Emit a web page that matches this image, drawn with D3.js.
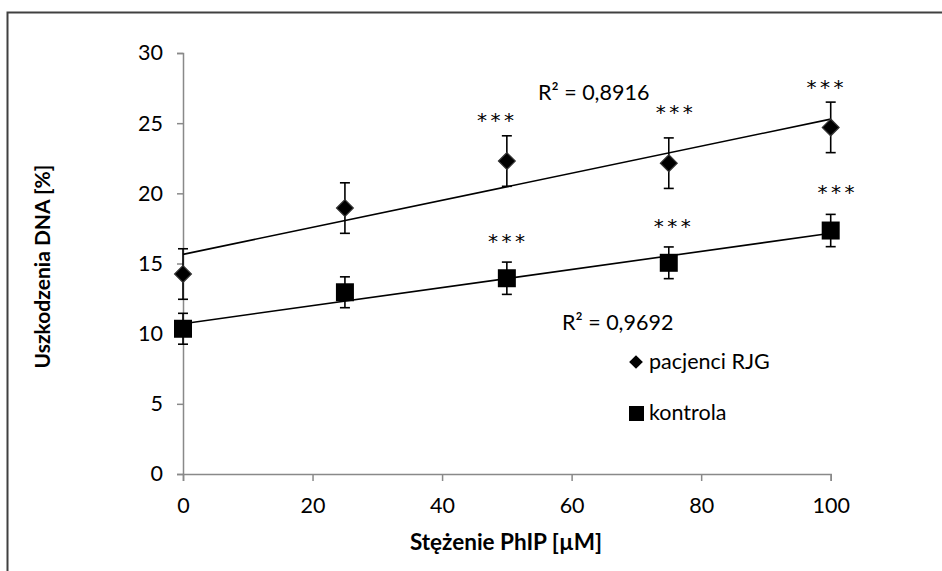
<!DOCTYPE html>
<html>
<head>
<meta charset="utf-8">
<script src="https://cdn.jsdelivr.net/npm/d3@7"></script>
<style>
  html, body { margin: 0; padding: 0; background: #fff; }
  svg { display: block; }
  text { font-family: Lato, "Open Sans", sans-serif; fill: #000; }
</style>
</head>
<body>
<svg id="chart" width="942" height="571"></svg>
<script>
// ---- Data ----
const doses = [0, 25, 50, 75, 100];
const patientsMean = [14.25, 18.95, 22.3, 22.15, 24.7];
const patientsErr = [1.8, 1.8, 1.8, 1.8, 1.8];
const controlMean = [10.35, 12.95, 13.95, 15.05, 17.35];
const controlErr = [1.1, 1.1, 1.15, 1.13, 1.15];
const yTicks = [0, 5, 10, 15, 20, 25, 30];
const xTicks = [0, 20, 40, 60, 80, 100];
const r2Patients = "R² = 0,8916";
const r2Control = "R² = 0,9692";
const seriesNames = ["pacjenci RJG", "kontrola"];
// significance labels: [x, y] in data units
const starsPatients = [[48.5, 25.45], [76.1, 26.0], [99.4, 27.8]];
const starsControl = [[50.2, 16.8], [75.8, 17.9], [101.1, 20.3]];

const FS = "21.5px";
const FONT = 'Lato, "Open Sans", sans-serif';

// ---- Layout ----
const svg = d3.select("#chart");
const x = d3.scaleLinear().domain([0, 100]).range([183, 830.7]);
const y = d3.scaleLinear().domain([0, 30]).range([474, 53]);

// outer frame (cropped chart area border)
svg.append("path")
  .attr("d", "M7.5,571 V12.5 H942")
  .attr("fill", "none").attr("stroke", "#404040").attr("stroke-width", 2);

const axisColor = "#898989";
const yAxis = svg.append("g").attr("transform", `translate(${x(0)},0)`)
  .call(d3.axisLeft(y).tickValues(yTicks).tickSize(6).tickPadding(14).tickFormat(d3.format("d")));
const xAxis = svg.append("g").attr("transform", `translate(0,${y(0)})`)
  .call(d3.axisBottom(x).tickValues(xTicks).tickSize(7).tickPadding(17).tickFormat(d3.format("d")));
[yAxis, xAxis].forEach(g => {
  g.select(".domain").attr("stroke", axisColor).attr("stroke-width", 1.5);
  g.selectAll(".tick line").attr("stroke", axisColor).attr("stroke-width", 1.5);
  g.selectAll(".tick text").style("font-size", FS).attr("fill", "#000").style("font-family", FONT);
});

// axis titles
svg.append("text")
  .attr("transform", `translate(50,${(y(0) + y(30)) / 2 + 3}) rotate(-90)`)
  .attr("text-anchor", "middle")
  .style("font-size", "21px").style("font-weight", "bold")
  .text("Uszkodzenia DNA [%]");
svg.append("text")
  .attr("x", 506).attr("y", 550)
  .attr("text-anchor", "middle")
  .style("font-size", "22.5px").style("font-weight", "bold")
  .text("Stężenie PhIP [µM]");

// linear regression trend lines
function fit(xs, ys) {
  const mx = d3.mean(xs), my = d3.mean(ys);
  const b = d3.sum(xs.map((v, i) => (v - mx) * (ys[i] - my))) / d3.sum(xs.map(v => (v - mx) ** 2));
  return { b, a: my - b * mx };
}
[patientsMean, controlMean].forEach(ys => {
  const f = fit(doses, ys);
  svg.append("line")
    .attr("x1", x(0)).attr("y1", y(f.a))
    .attr("x2", x(100)).attr("y2", y(f.a + f.b * 100))
    .attr("stroke", "#000").attr("stroke-width", 1.6);
});

// error bars
function errorBars(means, errs) {
  const g = svg.append("g").attr("stroke", "#000").attr("stroke-width", 1.6);
  doses.forEach((d, i) => {
    const cx = x(d), top = y(means[i] + errs[i]), bot = y(means[i] - errs[i]);
    g.append("line").attr("x1", cx).attr("x2", cx).attr("y1", top).attr("y2", bot);
    g.append("line").attr("x1", cx - 5).attr("x2", cx + 5).attr("y1", top).attr("y2", top);
    g.append("line").attr("x1", cx - 5).attr("x2", cx + 5).attr("y1", bot).attr("y2", bot);
  });
}
errorBars(patientsMean, patientsErr);
errorBars(controlMean, controlErr);

// markers
const diamond = d3.symbol().type(d3.symbolDiamond2).size(180);
svg.append("g").selectAll("path").data(doses).join("path")
  .attr("d", diamond)
  .attr("transform", (d, i) => `translate(${x(d)},${y(patientsMean[i])})`)
  .attr("fill", "#000").attr("stroke", "#333").attr("stroke-width", 1.2);
svg.append("g").selectAll("rect").data(doses).join("rect")
  .attr("x", d => x(d) - 9).attr("width", 18)
  .attr("y", (d, i) => y(controlMean[i]) - 9).attr("height", 18)
  .attr("fill", "#000");

// significance stars
[...starsPatients, ...starsControl].forEach(([sx, sy]) => {
  svg.append("text").attr("x", x(sx)).attr("y", y(sy) + 10)
    .attr("text-anchor", "middle")
    .style("font-family", '"DejaVu Sans", sans-serif')
    .style("font-size", "20px").style("letter-spacing", "3.5px")
    .text("***");
});

// R² labels
svg.append("text").attr("x", 538).attr("y", 100).style("font-size", FS).text(r2Patients);
svg.append("text").attr("x", 562).attr("y", 330).style("font-size", FS).text(r2Control);

// legend
const lg = svg.append("g");
lg.append("path").attr("d", d3.symbol().type(d3.symbolDiamond2).size(120)())
  .attr("transform", "translate(636,362)").attr("fill", "#000");
lg.append("text").attr("x", 649).attr("y", 369).style("font-size", FS).text(seriesNames[0]);
lg.append("rect").attr("x", 629).attr("y", 406).attr("width", 15).attr("height", 15).attr("fill", "#000");
lg.append("text").attr("x", 649).attr("y", 420).style("font-size", FS).text(seriesNames[1]);
</script>
</body>
</html>
